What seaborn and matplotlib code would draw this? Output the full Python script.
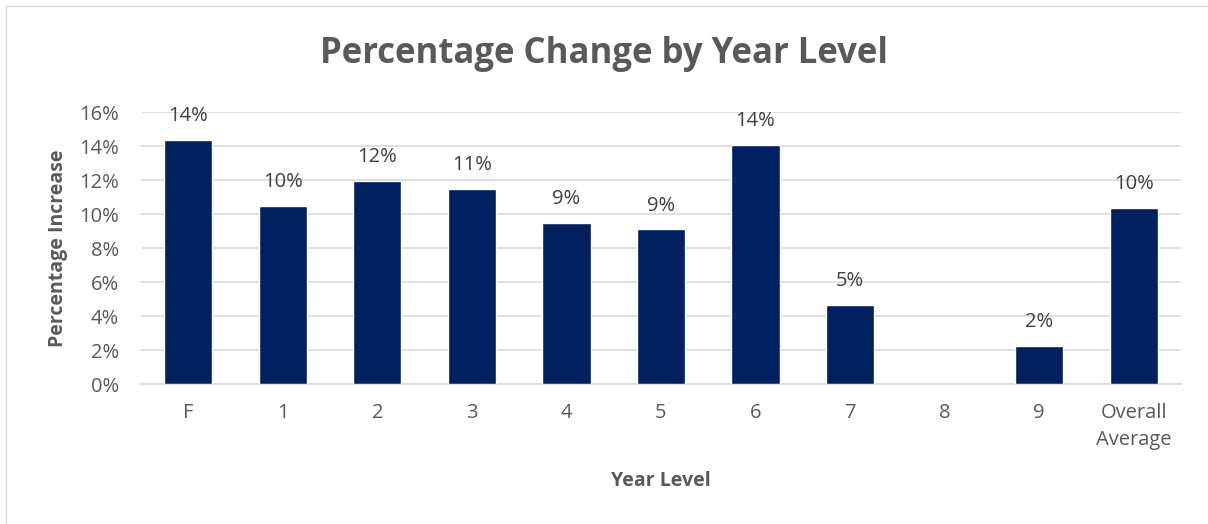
import matplotlib
matplotlib.use("Agg")
import matplotlib.pyplot as plt
import seaborn as sns
import numpy as np
import pandas as pd
from matplotlib.patches import Rectangle
from matplotlib.ticker import PercentFormatter

categories = ["F", "1", "2", "3", "4", "5", "6", "7", "8", "9", "Overall\nAverage"]
values = [14.35, 10.5, 11.95, 11.5, 9.47, 9.1, 14.06, 4.65, np.nan, 2.24, 10.35]
labels = ["14%", "10%", "12%", "11%", "9%", "9%", "14%", "5%", "", "2%", "10%"]

df = pd.DataFrame({"Year Level": categories, "Value": values})

sns.set_theme(style="white")
plt.rcParams["font.family"] = ["Open Sans", "DejaVu Sans"]

fig = plt.figure(figsize=(12.08, 5.24), dpi=100)
ax = fig.add_axes([141/1208, 1-384/524, (1181-141)/1208, (384-112)/524])

sns.barplot(data=df, x="Year Level", y="Value", color="#002060", width=0.51,
            saturation=1, ax=ax, zorder=3)

ax.set_ylim(0, 16)
ax.set_yticks(np.arange(0, 17, 2))
ax.yaxis.set_major_formatter(PercentFormatter(decimals=0))
ax.grid(axis="y", color="#d9d9d9", linewidth=1.2, zorder=0)
for s in ["top", "right", "left"]:
    ax.spines[s].set_visible(False)
ax.spines["bottom"].set_color("#d9d9d9")
ax.spines["bottom"].set_linewidth(1.2)
ax.tick_params(axis="both", length=0, labelsize=14.5, colors="#595959")
ax.tick_params(axis="y", pad=16)
ax.tick_params(axis="x", pad=14)
for t in ax.get_xticklabels():
    t.set_linespacing(1.45)

for i, (v, lab) in enumerate(zip(values, labels)):
    if lab and not np.isnan(v):
        ax.text(i, v + 0.8, lab, ha="center", va="bottom", fontsize=14.5, color="#404040")

ax.set_xlabel("Year Level", fontsize=14, fontweight="bold", color="#595959", labelpad=15)
ax.set_ylabel("Percentage Increase", fontsize=14, fontweight="bold", color="#595959", labelpad=8)

fig.text(0.5, 1-54/524, "Percentage Change by Year Level", ha="center", va="center",
         fontsize=25, fontweight="bold", color="#595959")

fig.patches.append(Rectangle((6/1208, -0.01), 1.1, 1-6/524+0.01, transform=fig.transFigure,
                             fill=False, edgecolor="#d9d9d9", linewidth=1))

fig.savefig("out.png", dpi=100)
